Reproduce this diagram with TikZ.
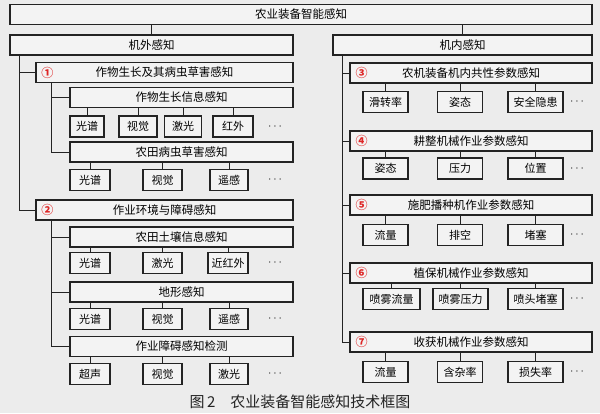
\documentclass[tikz,border=0pt]{standalone}
\usepackage{fontspec}
\setmainfont{Noto Sans CJK SC}
\usetikzlibrary{positioning}
\definecolor{bgc}{RGB}{236,236,236}
\definecolor{boxc}{RGB}{243,243,243}
\definecolor{linec}{RGB}{35,35,35}
\definecolor{numred}{RGB}{222,38,38}

\begin{document}
\begin{tikzpicture}[x=1pt, y=-1pt,
	box/.style={draw=linec, line width=1.4pt, fill=boxc, minimum height=20pt, inner sep=0pt, font=\fontsize{11.5}{12}\selectfont},
	leaf/.style={draw=linec, line width=1.4pt, fill=boxc, minimum height=21pt, inner sep=0pt, font=\fontsize{11}{12}\selectfont},
	num/.style={text=numred, inner sep=1pt, font=\fontsize{12}{12}\selectfont\bfseries},
	more/.style={inner sep=0pt, text=linec, font=\fontsize{12}{12}\selectfont},
	link/.style={draw=linec, line width=0.9pt}]
	
	% 1. 背景与画幅
	\fill[bgc] (0,0) rectangle (600,413);
	\useasboundingbox (0,0) rectangle (600,413);
	
	% 2. 顶层与两大分支
	\node[box, minimum width=582pt] (root) at (301,14.5) {农业装备智能感知};
	\node[box, minimum width=283pt] (out) at (151.5,45) {机外感知};
	\node[box, minimum width=259pt] (in) at (462.5,45) {机内感知};
	\draw[link] (root.south -| out.north) -- (out.north);
	\draw[link] (root.south -| in.north) -- (in.north);
	
	% 3. 机外感知 (左侧)
	\node[box, minimum width=257pt] (c1) at (164.5,72.5) {作物生长及其病虫草害感知};
	\node[num, right=5pt of c1.west] (n1) {①};
	\node[box, minimum width=223pt] (c1a) at (181.5,97.5) {作物生长信息感知};
	\node[leaf, minimum width=34pt] (c1a-1) at (87,126.5) {光谱};
	\node[leaf, minimum width=38pt] (c1a-2) at (138,126.5) {视觉};
	\node[leaf, minimum width=37pt] (c1a-3) at (183,126.5) {激光};
	\node[leaf, minimum width=40pt] (c1a-4) at (233,126.5) {红外};
	\node[more] (c1a-d) at (275,126.5) {$\cdots$};
	\node[box, minimum width=223pt] (c1b) at (181.5,152) {农田病虫草害感知};
	\node[leaf, minimum width=40pt] (c1b-1) at (90,180) {光谱};
	\node[leaf, minimum width=39pt] (c1b-2) at (162.5,180) {视觉};
	\node[leaf, minimum width=38pt] (c1b-3) at (229,180) {遥感};
	\node[more] (c1b-d) at (275,180) {$\cdots$};
	
	\node[box, minimum width=257pt] (c2) at (164.5,210) {作业环境与障碍感知};
	\node[num, right=5pt of c2.west] (n2) {②};
	\node[box, minimum width=223pt] (c2a) at (181.5,237) {农田土壤信息感知};
	\node[leaf, minimum width=40pt] (c2a-1) at (90,263) {光谱};
	\node[leaf, minimum width=39pt] (c2a-2) at (162.5,263) {激光};
	\node[leaf, minimum width=40pt] (c2a-3) at (228,263) {近红外};
	\node[more] (c2a-d) at (275,263) {$\cdots$};
	\node[box, minimum width=223pt] (c2b) at (181.5,292) {地形感知};
	\node[leaf, minimum width=40pt] (c2b-1) at (90,319) {光谱};
	\node[leaf, minimum width=39pt] (c2b-2) at (162.5,319) {视觉};
	\node[leaf, minimum width=38pt] (c2b-3) at (229,319) {遥感};
	\node[more] (c2b-d) at (275,319) {$\cdots$};
	\node[box, minimum width=223pt] (c2c) at (181.5,346.5) {作业障碍感知检测};
	\node[leaf, minimum width=40pt] (c2c-1) at (90,374) {超声};
	\node[leaf, minimum width=39pt] (c2c-2) at (162.5,374) {视觉};
	\node[leaf, minimum width=38pt] (c2c-3) at (229,374) {激光};
	\node[more] (c2c-d) at (275,374) {$\cdots$};
	
	% 4. 左侧连线 (竖干 + 横枝)
	\coordinate (tL) at (19,55);
	\coordinate (t1) at (51,83);
	\coordinate (t2) at (51,220);
	\draw[link] (tL) |- (c1.west);
	\draw[link] (tL) |- (c2.west);
	\draw[link] (t1) |- (c1a.west);
	\draw[link] (t1) |- (c1b.west);
	\draw[link] (t2) |- (c2a.west);
	\draw[link] (t2) |- (c2b.west);
	\draw[link] (t2) |- (c2c.west);
	\foreach \i in {1,...,4} \draw[link] (c1a-\i.north) -- (c1a-\i.north |- c1a.south);
	\foreach \p in {c1b,c2a,c2b,c2c}
		\foreach \i in {1,2,3} \draw[link] (\p-\i.north) -- (\p-\i.north |- \p.south);
	
	% 5. 机内感知 (右侧)
	\node[box, minimum width=242pt] (c3) at (471,73) {农机装备机内共性参数感知};
	\node[num, right=5pt of c3.west] (n3) {③};
	\node[leaf, minimum width=45pt] (c3-1) at (385.5,102) {滑转率};
	\node[leaf, minimum width=45pt] (c3-2) at (460,102) {姿态};
	\node[leaf, minimum width=55pt] (c3-3) at (535.5,102) {安全隐患};
	\node[more] (c3-d) at (577,102) {$\cdots$};
	
	\node[box, minimum width=242pt] (c4) at (471,141) {耕整机械作业参数感知};
	\node[num, right=5pt of c4.west] (n4) {④};
	\node[leaf, minimum width=45pt] (c4-1) at (385.5,168.5) {姿态};
	\node[leaf, minimum width=45pt] (c4-2) at (460,168.5) {压力};
	\node[leaf, minimum width=55pt] (c4-3) at (535.5,168.5) {位置};
	\node[more] (c4-d) at (577,168.5) {$\cdots$};
	
	\node[box, minimum width=242pt] (c5) at (471,205) {施肥播种机作业参数感知};
	\node[num, right=5pt of c5.west] (n5) {⑤};
	\node[leaf, minimum width=45pt] (c5-1) at (385.5,235) {流量};
	\node[leaf, minimum width=45pt] (c5-2) at (460,235) {排空};
	\node[leaf, minimum width=55pt] (c5-3) at (535.5,235) {堵塞};
	\node[more] (c5-d) at (577,235) {$\cdots$};
	
	\node[box, minimum width=242pt] (c6) at (471,273) {植保机械作业参数感知};
	\node[num, right=5pt of c6.west] (n6) {⑥};
	\node[leaf, minimum width=57pt] (c6-1) at (391.5,299) {喷雾流量};
	\node[leaf, minimum width=55pt] (c6-2) at (460.5,299) {喷雾压力};
	\node[leaf, minimum width=55pt] (c6-3) at (535.5,299) {喷头堵塞};
	\node[more] (c6-d) at (577,299) {$\cdots$};
	
	\node[box, minimum width=242pt] (c7) at (471,342) {收获机械作业参数感知};
	\node[num, right=5pt of c7.west] (n7) {⑦};
	\node[leaf, minimum width=45pt] (c7-1) at (385.5,372) {流量};
	\node[leaf, minimum width=45pt] (c7-2) at (460,372) {含杂率};
	\node[leaf, minimum width=55pt] (c7-3) at (535.5,372) {损失率};
	\node[more] (c7-d) at (577,372) {$\cdots$};
	
	% 6. 右侧连线
	\coordinate (tR) at (342,55);
	\foreach \p in {c3,c4,c5,c6,c7} {
		\draw[link] (tR) |- (\p.west);
		\foreach \i in {1,2,3} \draw[link] (\p-\i.north) -- (\p-\i.north |- \p.south);
	}
	
	% 7. 图题
	\node[font=\fontsize{15}{16}\selectfont, text=linec] (cap) at (300,402) {图\,2\quad 农业装备智能感知技术框图};
\end{tikzpicture}
\end{document}
